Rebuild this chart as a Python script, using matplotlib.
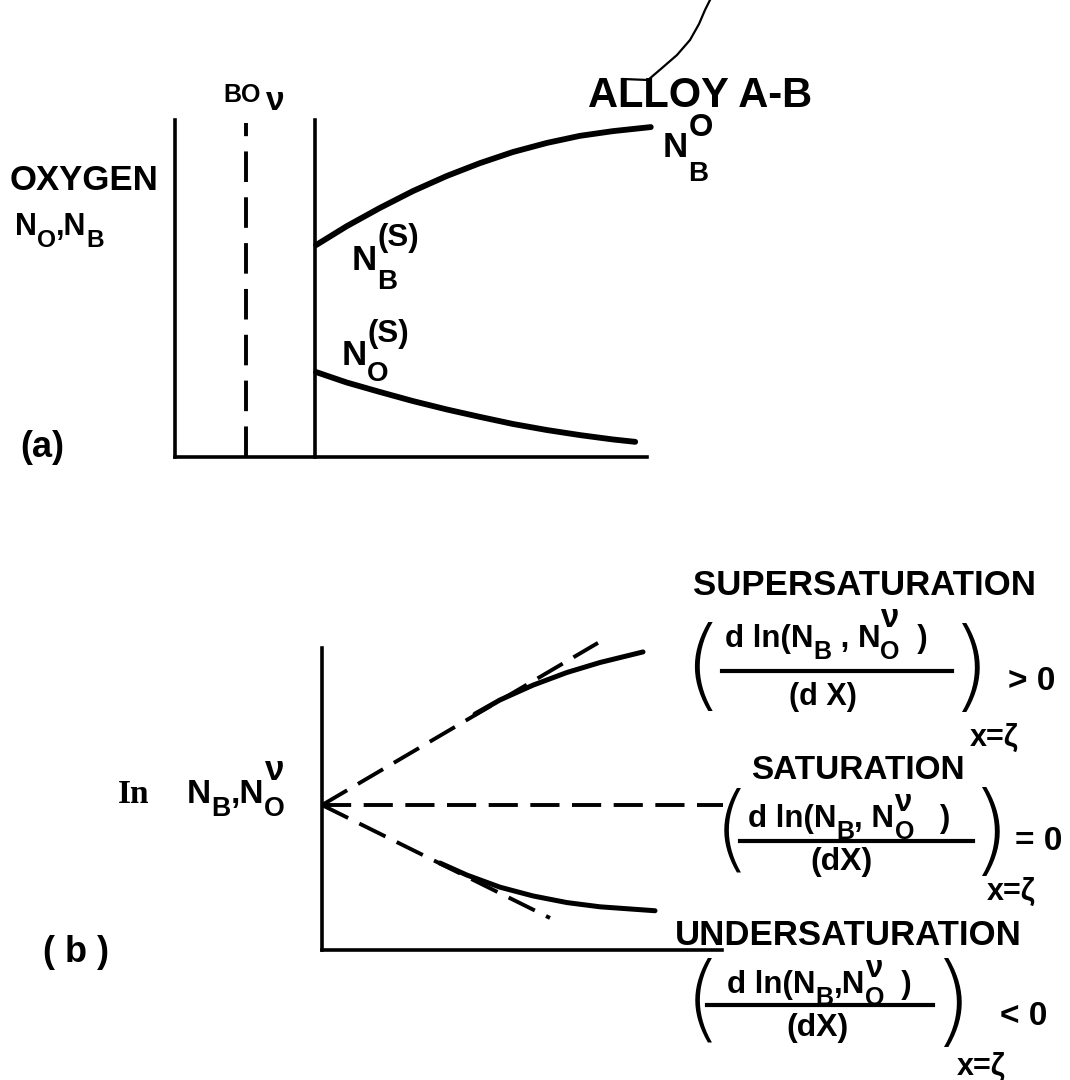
import matplotlib
matplotlib.use("Agg")
import matplotlib.pyplot as plt

plt.rcParams["font.family"] = ["Liberation Sans", "DejaVu Sans"]
plt.rcParams["lines.scale_dashes"] = False
plt.rcParams["mathtext.fontset"] = "custom"
plt.rcParams["mathtext.rm"] = "Liberation Sans:bold"
plt.rcParams["mathtext.it"] = "Liberation Sans:bold"
plt.rcParams["mathtext.bf"] = "Liberation Sans:bold"

# ---------------------------------------------------------------------------
# Panel (a): concentration profiles across oxide / alloy (units 0-100)
# ---------------------------------------------------------------------------
oxide_edge_x = 15.0          # dashed line inside the BO_v layer
interface_x = 29.7           # oxide / alloy interface

nb_x = [29.9, 36.4, 43.4, 50.4, 57.6, 64.6, 71.6, 78.8, 85.8, 92.8, 100.8]
nb_y = [62.9, 68.5, 73.9, 78.9, 83.4, 87.2, 90.5, 93.2, 95.3, 96.7, 97.9]

no_x = [29.9, 36.4, 43.4, 50.4, 57.6, 64.6, 71.6, 78.8, 85.8, 92.8, 97.5]
no_y = [25.2, 22.1, 19.3, 16.6, 14.1, 11.9, 9.8, 8.0, 6.5, 5.2, 4.5]

# ---------------------------------------------------------------------------
# Panel (b): ln N_B, N_O^v near the interface with the three tangents
# ---------------------------------------------------------------------------
super_tangent_x = [0.0, 69.0]
super_tangent_y = [48.0, 101.7]
sat_line_x = [0.0, 100.25]
sat_line_y = [48.0, 48.0]
under_tangent_x = [0.0, 57.0]
under_tangent_y = [48.0, 10.6]

super_x = [38.25, 44.5, 52.75, 61.25, 69.5, 80.25]
super_y = [78.1, 82.8, 87.7, 91.9, 95.2, 98.7]
under_x = [29.5, 36.25, 44.5, 52.75, 61.25, 69.5, 83.25]
under_y = [28.8, 24.8, 20.8, 17.9, 15.7, 14.3, 13.0]

# hand-drawn pointer stroke above "ALLOY"
pen_x = [623, 648, 662, 677, 690, 699, 705, 710]
pen_y = [79, 80, 68, 55, 40, 24, 10, 0]

NU = r"$\nu$"

W, H = 1070, 1080
fig = plt.figure(figsize=(W / 100, H / 100), dpi=100)
fig.patch.set_facecolor("white")
renderer = fig.canvas.get_renderer()

AX_LW = 2.6
CURVE_LW = 4.2
DASH_LW = 2.8


def frame(ax):
    ax.set_xlim(0, 100)
    ax.set_ylim(0, 100)
    ax.set_facecolor("none")
    for side in ("top", "right"):
        ax.spines[side].set_visible(False)
    for side in ("left", "bottom"):
        ax.spines[side].set_linewidth(AX_LW)
        ax.spines[side].set_capstyle("projecting")
    ax.set_xticks([])
    ax.set_yticks([])


# panel (a)
ax_a = fig.add_axes([175 / W, 1 - 457 / H, 472 / W, 337 / H])
frame(ax_a)
ax_a.plot([interface_x, interface_x], [0, 100], color="black", lw=AX_LW,
          solid_capstyle="projecting", clip_on=False)
ax_a.plot([oxide_edge_x, oxide_edge_x], [0, 99], color="black", lw=DASH_LW,
          linestyle=(0, (22, 11)), clip_on=False)
ax_a.plot(nb_x, nb_y, color="black", lw=CURVE_LW, solid_capstyle="round",
          solid_joinstyle="round", clip_on=False)
ax_a.plot(no_x, no_y, color="black", lw=CURVE_LW, solid_capstyle="round",
          solid_joinstyle="round", clip_on=False)

# panel (b)
ax_b = fig.add_axes([322 / W, 1 - 950 / H, 400 / W, 302 / H])
frame(ax_b)
for tx, ty in ((super_tangent_x, super_tangent_y),
               (sat_line_x, sat_line_y),
               (under_tangent_x, under_tangent_y)):
    ax_b.plot(tx, ty, color="black", lw=DASH_LW, linestyle=(0, (21, 9)),
              clip_on=False)
ax_b.plot(super_x, super_y, color="black", lw=3.6, solid_capstyle="round",
          solid_joinstyle="round", clip_on=False)
ax_b.plot(under_x, under_y, color="black", lw=3.6, solid_capstyle="round",
          solid_joinstyle="round", clip_on=False)

# overlay in pixel units for the lettering
ov = fig.add_axes([0, 0, 1, 1])
ov.set_xlim(0, W)
ov.set_ylim(H, 0)
ov.axis("off")
ov.patch.set_visible(False)

ov.plot(pen_x, pen_y, color="black", lw=1.6, clip_on=False)


def put(x, y, s, size, ha="left", weight="bold", **kw):
    return ov.text(x, y, s, fontsize=size, fontweight=weight, ha=ha,
                   va="baseline", color="black", **kw)


def wid(t):
    return t.get_window_extent(renderer).width


def chain(x, base, size, parts, sub_dy=0.38, sup_dy=-0.68, sup_scale=0.9):
    em = size * 100 / 72
    for item in parts:
        if isinstance(item, tuple):
            sub, sup = item
            w = 0
            if sub:
                w = max(w, wid(put(x, base + sub_dy * em, sub, size * 0.8)))
            if sup:
                w = max(w, wid(put(x, base + sup_dy * em, sup,
                                   size * sup_scale)))
            x += w
        else:
            x += wid(put(x, base, item, size))
    return x


def paren(x, y, s, height):
    size = height / 0.94 * 72 / 100
    ov.text(x, y, s, fontsize=size, fontweight="light", ha="center",
            va="center", color="black", family="DejaVu Sans")


# ---- panel (a) lettering
put(10, 190, "OXYGEN", 25)
chain(15, 235, 22, ["N", ("O", None), ",N", ("B", None)])
put(20, 457, "(a)", 26)
put(223, 102, "BO", 18)
put(265, 110, NU, 24)
put(588, 107, "ALLOY A-B", 30)
chain(663, 157, 25, ["N", ("B", "O")], sub_dy=0.7, sup_dy=-0.6)
chain(352, 270, 25, ["N", ("B", "(S)")], sub_dy=0.55, sup_dy=-0.7)
chain(342, 365, 25, ["N", ("O", "(S)")], sub_dy=0.45, sup_dy=-0.65)

# ---- panel (b) lettering
put(118, 803, "In", 24, family="Liberation Serif")
chain(187, 803, 24, ["N", ("B", None), ",N", ("O", NU)], sup_scale=1.05)
put(43, 962, "( b )", 26)

NUM = 22.5

# supersaturation
put(864, 595, "SUPERSATURATION", 25, ha="center")
chain(725, 647, NUM, ["d ln(N", ("B", None), " , N", ("O", NU), "  )"],
      sup_dy=-0.64, sup_scale=1.05)
ov.plot([722, 952], [671, 671], color="black", lw=3.0)
put(823, 705, "(d X)", 22, ha="center")
paren(703, 670, "(", 94)
paren(970, 671, ")", 94)
put(1008, 690, "> 0", 24)
put(970, 746, "x=ζ", 22)

# saturation
put(858, 779, "SATURATION", 24, ha="center")
chain(748, 827, NUM, ["d ln(N", ("B", None), ", N", ("O", NU), "   )"],
      sup_dy=-0.5, sup_scale=1.0)
ov.plot([740, 973], [841, 841], color="black", lw=3.0)
put(842, 870, "(dX)", 23, ha="center")
paren(732, 833, "(", 88)
paren(990, 835, ")", 94)
put(1015, 850, "= 0", 24)
put(987, 900, "x=ζ", 22)

# undersaturation
put(848, 945, "UNDERSATURATION", 25, ha="center")
chain(727, 993, NUM, ["d ln(N", ("B", None), ",N", ("O", NU), "  )"],
      sup_dy=-0.5, sup_scale=1.0)
ov.plot([707, 933], [1005, 1005], color="black", lw=3.0)
put(818, 1036, "(dX)", 23, ha="center")
paren(703, 1003, "(", 88)
paren(952, 1006, ")", 94)
put(1000, 1025, "< 0", 24)
put(957, 1075, "x=ζ", 22)

fig.savefig("out.png", dpi=100, facecolor="white")
